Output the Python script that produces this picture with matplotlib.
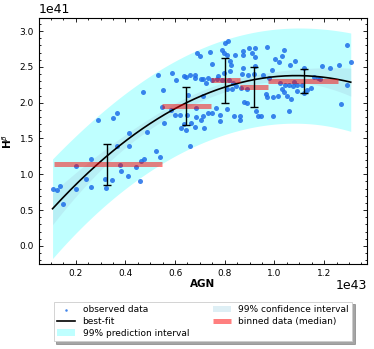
import matplotlib
matplotlib.use("Agg")
import matplotlib.pyplot as plt
import numpy as np

# observed data (AGN in 1e43, Hbeta in 1e41)
agn = np.array([
    0.107, 0.123, 0.137, 0.149, 0.203, 0.203, 0.243, 0.261, 0.261, 0.289,
    0.320, 0.323, 0.347, 0.351, 0.367, 0.368, 0.379, 0.383, 0.411, 0.416,
    0.416, 0.459, 0.443, 0.461, 0.475, 0.488, 0.469, 0.523, 0.539, 0.531,
    0.551, 0.549, 0.557, 0.589, 0.603, 0.600, 0.619, 0.623, 0.636, 0.636,
    0.689, 0.701, 0.644, 0.659, 0.681, 0.679, 0.705, 0.653, 0.711, 0.647,
    0.583, 0.683, 0.705, 0.644, 0.679, 0.660, 0.801, 0.815, 0.740, 0.788,
    0.796, 0.809, 0.841, 0.873, 0.897, 0.908, 0.923, 0.875, 0.923, 0.968,
    0.747, 0.821, 0.827, 0.820, 0.795, 0.771, 0.875, 0.923, 0.871, 0.895,
    0.917, 0.711, 0.724, 0.732, 0.749, 0.768, 0.788, 0.817, 0.835, 0.864,
    0.807, 0.831, 0.847, 0.891, 0.989, 1.004, 1.020, 1.029, 1.040, 1.084,
    0.977, 0.953, 1.023, 0.993, 1.013, 0.971, 0.967, 1.044, 1.051, 1.065,
    1.039, 1.076, 1.092, 1.080, 1.111, 1.132, 1.148, 1.117, 1.193, 1.225,
    1.260, 1.292, 1.307, 1.292, 1.269, 1.057, 1.177, 0.684, 0.764, 0.781,
    0.809, 0.733, 0.747, 0.713, 0.664, 0.781, 0.837, 0.861, 0.860, 0.879,
    0.888, 0.924, 0.933, 0.945, 0.996, 0.717, 1.063, 1.119, 1.161, 1.183,
    1.059, 1.092, 1.032,
])
hbeta = np.array([
    0.79, 0.78, 0.83, 0.58, 0.79, 1.11, 0.93, 0.82, 1.22, 1.76,
    0.94, 0.81, 0.92, 1.78, 1.86, 1.40, 1.13, 1.04, 0.97, 1.58,
    1.39, 0.91, 1.10, 1.18, 1.22, 1.59, 2.15, 1.32, 1.24, 2.38,
    2.17, 1.94, 1.72, 2.42, 2.32, 1.83, 1.83, 1.65, 2.37, 1.70,
    2.70, 2.65, 2.36, 2.39, 2.39, 2.35, 2.33, 2.11, 2.10, 1.83,
    1.90, 1.80, 1.76, 1.62, 1.66, 1.39, 2.84, 2.86, 2.71, 2.74,
    2.69, 2.66, 2.67, 2.72, 2.77, 2.70, 2.76, 2.67, 2.64, 2.78,
    2.54, 2.58, 2.52, 2.44, 2.41, 2.37, 2.48, 2.51, 2.40, 2.39,
    2.40, 2.33, 2.27, 2.35, 2.31, 2.33, 2.31, 2.31, 2.27, 2.21,
    2.19, 2.19, 2.23, 2.19, 2.46, 2.61, 2.57, 2.65, 2.73, 2.58,
    2.35, 2.39, 2.27, 2.08, 2.10, 2.08, 2.12, 2.24, 2.10, 2.05,
    2.15, 2.23, 2.24, 2.29, 2.24, 2.17, 2.21, 2.13, 2.51, 2.48,
    2.52, 2.80, 2.57, 2.24, 1.98, 1.89, 2.34, 1.93, 1.93, 1.83,
    1.91, 1.86, 1.85, 1.81, 1.72, 1.75, 1.81, 1.81, 1.76, 2.01,
    1.99, 1.88, 1.82, 1.82, 1.81, 1.64, 2.52, 2.48, 2.36, 2.33,
    2.24, 2.16, 2.19,
])

# binned data (median)
bin_lo = [0.112, 0.548, 0.744, 0.860, 0.976]
bin_hi = [0.548, 0.744, 0.860, 0.976, 1.256]
bin_x = [0.328, 0.645, 0.800, 0.916, 1.120]
bin_med = [1.14, 1.95, 2.31, 2.22, 2.30]
bin_err = [0.29, 0.265, 0.32, 0.28, 0.17]

# quadratic fit + intervals
deg = 2
t99 = 2.0   # scale that reproduces the band width of the original
X = np.vander(agn, deg + 1)
coef, res, _, _ = np.linalg.lstsq(X, hbeta, rcond=None)
resid = hbeta - X @ coef
s = np.sqrt(np.sum(resid ** 2) / (len(agn) - deg - 1))
cov = np.linalg.inv(X.T @ X)

xs = np.linspace(agn.min(), agn.max(), 200)
Xs = np.vander(xs, deg + 1)
ys = Xs @ coef
lev = np.einsum('ij,jk,ik->i', Xs, cov, Xs)
ci = t99 * s * np.sqrt(lev)
pi = t99 * s * np.sqrt(1 + lev)

fig = plt.figure(figsize=(3.74, 3.49), dpi=100)
ax = fig.add_axes([0.104, 0.244, 0.877, 0.704])

ax.fill_between(xs, ys - pi, ys + pi, color='cyan', alpha=0.25, lw=0,
                label='99% prediction interval')
ax.fill_between(xs, ys - ci, ys + ci, color='lightblue', alpha=0.4, lw=0,
                label='99% confidence interval')
ax.scatter(agn, hbeta, s=13, color='#1f6fe8', alpha=0.85, lw=0,
           label='observed data', zorder=3)
ax.plot(xs, ys, color='black', lw=1.2, label='best-fit', zorder=4)
ax.hlines(bin_med, bin_lo, bin_hi, color='red', alpha=0.5, lw=3.6,
          label='binned data (median)', zorder=5)
ax.errorbar(bin_x, bin_med, yerr=bin_err, fmt='none', ecolor='black',
            elinewidth=1.0, capsize=3, capthick=1.0, zorder=6)

ax.set_xlim(0.052, 1.372)
ax.set_ylim(-0.25, 3.18)
ax.set_xticks([0.2, 0.4, 0.6, 0.8, 1.0, 1.2])
ax.set_yticks([0.0, 0.5, 1.0, 1.5, 2.0, 2.5, 3.0])
ax.set_xticklabels(['0.2', '0.4', '0.6', '0.8', '1.0', '1.2'])
ax.set_yticklabels(['0.0', '0.5', '1.0', '1.5', '2.0', '2.5', '3.0'])
ax.minorticks_on()
ax.tick_params(which='both', direction='in', top=True, right=True,
               labelsize=6.5, width=0.6)
ax.tick_params(which='major', length=3)
ax.tick_params(which='minor', length=1.5)
for sp in ax.spines.values():
    sp.set_linewidth(0.8)

ax.set_xlabel('AGN', fontsize=7.5, fontweight='bold', labelpad=1)
ax.set_ylabel(r'H$^{\beta}$', fontsize=7.5, fontweight='bold', labelpad=4)
ax.text(0.0, 1.01, '1e41', transform=ax.transAxes, fontsize=9,
        ha='left', va='bottom')
ax.text(1.0, -0.06, '1e43', transform=ax.transAxes, fontsize=9,
        ha='right', va='top')

h, l = ax.get_legend_handles_labels()
order = ['observed data', 'best-fit', '99% prediction interval',
         '99% confidence interval', 'binned data (median)']
hd = dict(zip(l, h))
leg = ax.legend([hd[k] for k in order], order, loc='upper center',
                bbox_to_anchor=(0.5, -0.135), ncol=2, fontsize=6.5,
                shadow=True, fancybox=False, markerscale=0.5,
                columnspacing=2.6, handlelength=2.0, borderpad=0.4,
                labelspacing=0.3, framealpha=1)
leg.get_frame().set_linewidth(0.6)

fig.savefig('out.png', dpi=100)
